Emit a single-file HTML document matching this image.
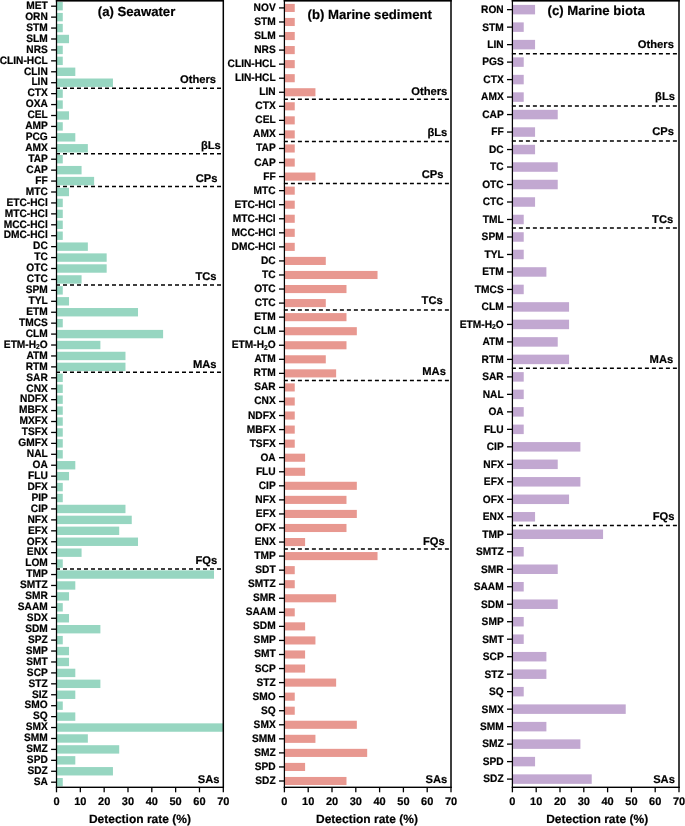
<!DOCTYPE html>
<html><head><meta charset="utf-8"><title>Detection rate</title>
<style>
html,body{margin:0;padding:0;background:#fff;}
body{width:685px;height:826px;overflow:hidden;font-family:"Liberation Sans",sans-serif;}
svg text{text-rendering:geometricPrecision;stroke:#000;stroke-width:0.2px;stroke-linejoin:round;}
svg{display:block;will-change:transform;transform:translateZ(0);font-family:"Liberation Sans",sans-serif;font-weight:bold;fill:#000;}
</style></head><body>
<svg width="685" height="826" viewBox="0 0 685 826">
<rect x="0" y="0" width="685" height="826" fill="#ffffff"/>
<g id="panel-a">
<g fill="#97D6C1">
<rect x="56.50" y="2.00" width="6.27" height="8.40"/>
<rect x="56.50" y="12.93" width="6.27" height="8.40"/>
<rect x="56.50" y="23.86" width="6.27" height="8.40"/>
<rect x="56.50" y="34.79" width="12.54" height="8.40"/>
<rect x="56.50" y="45.72" width="6.27" height="8.40"/>
<rect x="56.50" y="56.65" width="6.27" height="8.40"/>
<rect x="56.50" y="67.58" width="18.81" height="8.40"/>
<rect x="56.50" y="78.51" width="56.44" height="8.40"/>
<rect x="56.50" y="89.44" width="6.27" height="8.40"/>
<rect x="56.50" y="100.37" width="6.27" height="8.40"/>
<rect x="56.50" y="111.30" width="12.54" height="8.40"/>
<rect x="56.50" y="122.23" width="6.27" height="8.40"/>
<rect x="56.50" y="133.15" width="18.81" height="8.40"/>
<rect x="56.50" y="144.08" width="31.35" height="8.40"/>
<rect x="56.50" y="155.01" width="6.27" height="8.40"/>
<rect x="56.50" y="165.94" width="25.08" height="8.40"/>
<rect x="56.50" y="176.87" width="37.62" height="8.40"/>
<rect x="56.50" y="187.80" width="12.54" height="8.40"/>
<rect x="56.50" y="198.73" width="6.27" height="8.40"/>
<rect x="56.50" y="209.66" width="6.27" height="8.40"/>
<rect x="56.50" y="220.59" width="6.27" height="8.40"/>
<rect x="56.50" y="231.52" width="6.27" height="8.40"/>
<rect x="56.50" y="242.45" width="31.35" height="8.40"/>
<rect x="56.50" y="253.38" width="50.17" height="8.40"/>
<rect x="56.50" y="264.31" width="50.17" height="8.40"/>
<rect x="56.50" y="275.24" width="25.08" height="8.40"/>
<rect x="56.50" y="286.17" width="6.27" height="8.40"/>
<rect x="56.50" y="297.10" width="12.54" height="8.40"/>
<rect x="56.50" y="308.03" width="81.52" height="8.40"/>
<rect x="56.50" y="318.96" width="6.27" height="8.40"/>
<rect x="56.50" y="329.89" width="106.60" height="8.40"/>
<rect x="56.50" y="340.82" width="43.89" height="8.40"/>
<rect x="56.50" y="351.75" width="68.98" height="8.40"/>
<rect x="56.50" y="362.68" width="68.98" height="8.40"/>
<rect x="56.50" y="373.61" width="6.27" height="8.40"/>
<rect x="56.50" y="384.54" width="6.27" height="8.40"/>
<rect x="56.50" y="395.46" width="6.27" height="8.40"/>
<rect x="56.50" y="406.39" width="6.27" height="8.40"/>
<rect x="56.50" y="417.32" width="6.27" height="8.40"/>
<rect x="56.50" y="428.25" width="6.27" height="8.40"/>
<rect x="56.50" y="439.18" width="6.27" height="8.40"/>
<rect x="56.50" y="450.11" width="6.27" height="8.40"/>
<rect x="56.50" y="461.04" width="18.81" height="8.40"/>
<rect x="56.50" y="471.97" width="12.54" height="8.40"/>
<rect x="56.50" y="482.90" width="6.27" height="8.40"/>
<rect x="56.50" y="493.83" width="6.27" height="8.40"/>
<rect x="56.50" y="504.76" width="68.98" height="8.40"/>
<rect x="56.50" y="515.69" width="75.25" height="8.40"/>
<rect x="56.50" y="526.62" width="62.71" height="8.40"/>
<rect x="56.50" y="537.55" width="81.52" height="8.40"/>
<rect x="56.50" y="548.48" width="25.08" height="8.40"/>
<rect x="56.50" y="559.41" width="6.27" height="8.40"/>
<rect x="56.50" y="570.34" width="157.52" height="8.40"/>
<rect x="56.50" y="581.27" width="18.81" height="8.40"/>
<rect x="56.50" y="592.20" width="12.54" height="8.40"/>
<rect x="56.50" y="603.13" width="6.27" height="8.40"/>
<rect x="56.50" y="614.06" width="12.54" height="8.40"/>
<rect x="56.50" y="624.99" width="43.89" height="8.40"/>
<rect x="56.50" y="635.92" width="6.27" height="8.40"/>
<rect x="56.50" y="646.85" width="12.54" height="8.40"/>
<rect x="56.50" y="657.77" width="12.54" height="8.40"/>
<rect x="56.50" y="668.70" width="18.81" height="8.40"/>
<rect x="56.50" y="679.63" width="43.89" height="8.40"/>
<rect x="56.50" y="690.56" width="18.81" height="8.40"/>
<rect x="56.50" y="701.49" width="6.27" height="8.40"/>
<rect x="56.50" y="712.42" width="18.81" height="8.40"/>
<rect x="56.50" y="723.35" width="166.80" height="8.40"/>
<rect x="56.50" y="734.28" width="31.35" height="8.40"/>
<rect x="56.50" y="745.21" width="62.71" height="8.40"/>
<rect x="56.50" y="756.14" width="18.81" height="8.40"/>
<rect x="56.50" y="767.07" width="56.44" height="8.40"/>
<rect x="56.50" y="778.00" width="6.27" height="8.40"/>
</g>
<g stroke="#000" stroke-width="1.50" stroke-dasharray="4 3">
<line x1="56.00" y1="88.17" x2="223.30" y2="88.17"/>
<line x1="56.00" y1="153.75" x2="223.30" y2="153.75"/>
<line x1="56.00" y1="186.54" x2="223.30" y2="186.54"/>
<line x1="56.00" y1="284.90" x2="223.30" y2="284.90"/>
<line x1="56.00" y1="372.34" x2="223.30" y2="372.34"/>
<line x1="56.00" y1="569.07" x2="223.30" y2="569.07"/>
</g>
<g fill="#000">
<rect x="55.88" y="0" width="1.25" height="788.00"/>
<rect x="222.55" y="0" width="1.5" height="788.00"/>
<rect x="55.88" y="786.60" width="168.05" height="1.4"/>
</g>
<rect x="55.80" y="0" width="168.20" height="1.6" fill="#000"/>
<g stroke="#000" stroke-width="1.30">
<line x1="51.10" y1="6.20" x2="56.50" y2="6.20"/>
<line x1="51.10" y1="17.13" x2="56.50" y2="17.13"/>
<line x1="51.10" y1="28.06" x2="56.50" y2="28.06"/>
<line x1="51.10" y1="38.99" x2="56.50" y2="38.99"/>
<line x1="51.10" y1="49.92" x2="56.50" y2="49.92"/>
<line x1="51.10" y1="60.85" x2="56.50" y2="60.85"/>
<line x1="51.10" y1="71.78" x2="56.50" y2="71.78"/>
<line x1="51.10" y1="82.71" x2="56.50" y2="82.71"/>
<line x1="51.10" y1="93.64" x2="56.50" y2="93.64"/>
<line x1="51.10" y1="104.57" x2="56.50" y2="104.57"/>
<line x1="51.10" y1="115.50" x2="56.50" y2="115.50"/>
<line x1="51.10" y1="126.43" x2="56.50" y2="126.43"/>
<line x1="51.10" y1="137.35" x2="56.50" y2="137.35"/>
<line x1="51.10" y1="148.28" x2="56.50" y2="148.28"/>
<line x1="51.10" y1="159.21" x2="56.50" y2="159.21"/>
<line x1="51.10" y1="170.14" x2="56.50" y2="170.14"/>
<line x1="51.10" y1="181.07" x2="56.50" y2="181.07"/>
<line x1="51.10" y1="192.00" x2="56.50" y2="192.00"/>
<line x1="51.10" y1="202.93" x2="56.50" y2="202.93"/>
<line x1="51.10" y1="213.86" x2="56.50" y2="213.86"/>
<line x1="51.10" y1="224.79" x2="56.50" y2="224.79"/>
<line x1="51.10" y1="235.72" x2="56.50" y2="235.72"/>
<line x1="51.10" y1="246.65" x2="56.50" y2="246.65"/>
<line x1="51.10" y1="257.58" x2="56.50" y2="257.58"/>
<line x1="51.10" y1="268.51" x2="56.50" y2="268.51"/>
<line x1="51.10" y1="279.44" x2="56.50" y2="279.44"/>
<line x1="51.10" y1="290.37" x2="56.50" y2="290.37"/>
<line x1="51.10" y1="301.30" x2="56.50" y2="301.30"/>
<line x1="51.10" y1="312.23" x2="56.50" y2="312.23"/>
<line x1="51.10" y1="323.16" x2="56.50" y2="323.16"/>
<line x1="51.10" y1="334.09" x2="56.50" y2="334.09"/>
<line x1="51.10" y1="345.02" x2="56.50" y2="345.02"/>
<line x1="51.10" y1="355.95" x2="56.50" y2="355.95"/>
<line x1="51.10" y1="366.88" x2="56.50" y2="366.88"/>
<line x1="51.10" y1="377.81" x2="56.50" y2="377.81"/>
<line x1="51.10" y1="388.74" x2="56.50" y2="388.74"/>
<line x1="51.10" y1="399.66" x2="56.50" y2="399.66"/>
<line x1="51.10" y1="410.59" x2="56.50" y2="410.59"/>
<line x1="51.10" y1="421.52" x2="56.50" y2="421.52"/>
<line x1="51.10" y1="432.45" x2="56.50" y2="432.45"/>
<line x1="51.10" y1="443.38" x2="56.50" y2="443.38"/>
<line x1="51.10" y1="454.31" x2="56.50" y2="454.31"/>
<line x1="51.10" y1="465.24" x2="56.50" y2="465.24"/>
<line x1="51.10" y1="476.17" x2="56.50" y2="476.17"/>
<line x1="51.10" y1="487.10" x2="56.50" y2="487.10"/>
<line x1="51.10" y1="498.03" x2="56.50" y2="498.03"/>
<line x1="51.10" y1="508.96" x2="56.50" y2="508.96"/>
<line x1="51.10" y1="519.89" x2="56.50" y2="519.89"/>
<line x1="51.10" y1="530.82" x2="56.50" y2="530.82"/>
<line x1="51.10" y1="541.75" x2="56.50" y2="541.75"/>
<line x1="51.10" y1="552.68" x2="56.50" y2="552.68"/>
<line x1="51.10" y1="563.61" x2="56.50" y2="563.61"/>
<line x1="51.10" y1="574.54" x2="56.50" y2="574.54"/>
<line x1="51.10" y1="585.47" x2="56.50" y2="585.47"/>
<line x1="51.10" y1="596.40" x2="56.50" y2="596.40"/>
<line x1="51.10" y1="607.33" x2="56.50" y2="607.33"/>
<line x1="51.10" y1="618.26" x2="56.50" y2="618.26"/>
<line x1="51.10" y1="629.19" x2="56.50" y2="629.19"/>
<line x1="51.10" y1="640.12" x2="56.50" y2="640.12"/>
<line x1="51.10" y1="651.05" x2="56.50" y2="651.05"/>
<line x1="51.10" y1="661.97" x2="56.50" y2="661.97"/>
<line x1="51.10" y1="672.90" x2="56.50" y2="672.90"/>
<line x1="51.10" y1="683.83" x2="56.50" y2="683.83"/>
<line x1="51.10" y1="694.76" x2="56.50" y2="694.76"/>
<line x1="51.10" y1="705.69" x2="56.50" y2="705.69"/>
<line x1="51.10" y1="716.62" x2="56.50" y2="716.62"/>
<line x1="51.10" y1="727.55" x2="56.50" y2="727.55"/>
<line x1="51.10" y1="738.48" x2="56.50" y2="738.48"/>
<line x1="51.10" y1="749.41" x2="56.50" y2="749.41"/>
<line x1="51.10" y1="760.34" x2="56.50" y2="760.34"/>
<line x1="51.10" y1="771.27" x2="56.50" y2="771.27"/>
<line x1="51.10" y1="782.20" x2="56.50" y2="782.20"/>
<line x1="56.50" y1="787.30" x2="56.50" y2="792.30"/>
<line x1="80.33" y1="787.30" x2="80.33" y2="792.30"/>
<line x1="104.16" y1="787.30" x2="104.16" y2="792.30"/>
<line x1="127.99" y1="787.30" x2="127.99" y2="792.30"/>
<line x1="151.81" y1="787.30" x2="151.81" y2="792.30"/>
<line x1="175.64" y1="787.30" x2="175.64" y2="792.30"/>
<line x1="199.47" y1="787.30" x2="199.47" y2="792.30"/>
<line x1="223.30" y1="787.30" x2="223.30" y2="792.30"/>
</g>
<g font-size="10.20" text-anchor="end" transform="scale(1.0000,1.0600)">
<text x="47.80" y="8.48">MET</text>
<text x="47.80" y="18.79">ORN</text>
<text x="47.80" y="29.10">STM</text>
<text x="47.80" y="39.41">SLM</text>
<text x="47.80" y="49.73">NRS</text>
<text x="47.80" y="60.04">CLIN-HCL</text>
<text x="47.80" y="70.35">CLIN</text>
<text x="47.80" y="80.66">LIN</text>
<text x="47.80" y="90.97">CTX</text>
<text x="47.80" y="101.28">OXA</text>
<text x="47.80" y="111.59">CEL</text>
<text x="47.80" y="121.90">AMP</text>
<text x="47.80" y="132.21">PCG</text>
<text x="47.80" y="142.52">AMX</text>
<text x="47.80" y="152.83">TAP</text>
<text x="47.80" y="163.15">CAP</text>
<text x="47.80" y="173.46">FF</text>
<text x="47.80" y="183.77">MTC</text>
<text x="47.80" y="194.08">ETC-HCl</text>
<text x="47.80" y="204.39">MTC-HCl</text>
<text x="47.80" y="214.70">MCC-HCl</text>
<text x="47.80" y="225.01">DMC-HCl</text>
<text x="47.80" y="235.32">DC</text>
<text x="47.80" y="245.63">TC</text>
<text x="47.80" y="255.94">OTC</text>
<text x="47.80" y="266.26">CTC</text>
<text x="47.80" y="276.57">SPM</text>
<text x="47.80" y="286.88">TYL</text>
<text x="47.80" y="297.19">ETM</text>
<text x="47.80" y="307.50">TMCS</text>
<text x="47.80" y="317.81">CLM</text>
<text x="47.80" y="328.12">ETM-H<tspan font-size="6.73" dy="1.45">2</tspan><tspan dy="-1.45">O</tspan></text>
<text x="47.80" y="338.43">ATM</text>
<text x="47.80" y="348.74">RTM</text>
<text x="47.80" y="359.05">SAR</text>
<text x="47.80" y="369.36">CNX</text>
<text x="47.80" y="379.68">NDFX</text>
<text x="47.80" y="389.99">MBFX</text>
<text x="47.80" y="400.30">MXFX</text>
<text x="47.80" y="410.61">TSFX</text>
<text x="47.80" y="420.92">GMFX</text>
<text x="47.80" y="431.23">NAL</text>
<text x="47.80" y="441.54">OA</text>
<text x="47.80" y="451.85">FLU</text>
<text x="47.80" y="462.16">DFX</text>
<text x="47.80" y="472.47">PIP</text>
<text x="47.80" y="482.78">CIP</text>
<text x="47.80" y="493.10">NFX</text>
<text x="47.80" y="503.41">EFX</text>
<text x="47.80" y="513.72">OFX</text>
<text x="47.80" y="524.03">ENX</text>
<text x="47.80" y="534.34">LOM</text>
<text x="47.80" y="544.65">TMP</text>
<text x="47.80" y="554.96">SMTZ</text>
<text x="47.80" y="565.27">SMR</text>
<text x="47.80" y="575.58">SAAM</text>
<text x="47.80" y="585.89">SDX</text>
<text x="47.80" y="596.20">SDM</text>
<text x="47.80" y="606.52">SPZ</text>
<text x="47.80" y="616.83">SMP</text>
<text x="47.80" y="627.14">SMT</text>
<text x="47.80" y="637.45">SCP</text>
<text x="47.80" y="647.76">STZ</text>
<text x="47.80" y="658.07">SIZ</text>
<text x="47.80" y="668.38">SMO</text>
<text x="47.80" y="678.69">SQ</text>
<text x="47.80" y="689.00">SMX</text>
<text x="47.80" y="699.31">SMM</text>
<text x="47.80" y="709.62">SMZ</text>
<text x="47.80" y="719.94">SPD</text>
<text x="47.80" y="730.25">SDZ</text>
<text x="47.80" y="740.56">SA</text>
</g>
<g font-size="11.00" text-anchor="middle">
<text x="56.50" y="804.60">0</text>
<text x="80.33" y="804.60">10</text>
<text x="104.16" y="804.60">20</text>
<text x="127.99" y="804.60">30</text>
<text x="151.81" y="804.60">40</text>
<text x="175.64" y="804.60">50</text>
<text x="199.47" y="804.60">60</text>
<text x="223.30" y="804.60">70</text>
</g>
<text x="139.90" y="822.60" font-size="12.00" text-anchor="middle">Detection rate (%)</text>
<g font-size="11.20" text-anchor="end">
<text x="216.10" y="83.00">Others</text>
<text x="220.80" y="149.00">βLs</text>
<text x="217.50" y="181.70">CPs</text>
<text x="216.60" y="279.90">TCs</text>
<text x="216.60" y="367.50">MAs</text>
<text x="217.30" y="564.30">FQs</text>
<text x="219.60" y="783.20">SAs</text>
</g>
<text x="97.80" y="16.00" font-size="13.17">(a) Seawater</text>
</g>
<g id="panel-b">
<g fill="#E89890">
<rect x="284.40" y="3.87" width="10.35" height="8.10"/>
<rect x="284.40" y="17.93" width="10.35" height="8.10"/>
<rect x="284.40" y="31.98" width="10.35" height="8.10"/>
<rect x="284.40" y="46.04" width="10.35" height="8.10"/>
<rect x="284.40" y="60.09" width="10.35" height="8.10"/>
<rect x="284.40" y="74.15" width="10.35" height="8.10"/>
<rect x="284.40" y="88.21" width="31.04" height="8.10"/>
<rect x="284.40" y="102.26" width="10.35" height="8.10"/>
<rect x="284.40" y="116.32" width="10.35" height="8.10"/>
<rect x="284.40" y="130.37" width="10.35" height="8.10"/>
<rect x="284.40" y="144.43" width="10.35" height="8.10"/>
<rect x="284.40" y="158.49" width="10.35" height="8.10"/>
<rect x="284.40" y="172.54" width="31.04" height="8.10"/>
<rect x="284.40" y="186.60" width="10.35" height="8.10"/>
<rect x="284.40" y="200.65" width="10.35" height="8.10"/>
<rect x="284.40" y="214.71" width="10.35" height="8.10"/>
<rect x="284.40" y="228.77" width="10.35" height="8.10"/>
<rect x="284.40" y="242.82" width="10.35" height="8.10"/>
<rect x="284.40" y="256.88" width="41.39" height="8.10"/>
<rect x="284.40" y="270.93" width="93.13" height="8.10"/>
<rect x="284.40" y="284.99" width="62.09" height="8.10"/>
<rect x="284.40" y="299.05" width="41.39" height="8.10"/>
<rect x="284.40" y="313.10" width="62.09" height="8.10"/>
<rect x="284.40" y="327.16" width="72.43" height="8.10"/>
<rect x="284.40" y="341.21" width="62.09" height="8.10"/>
<rect x="284.40" y="355.27" width="41.39" height="8.10"/>
<rect x="284.40" y="369.33" width="51.74" height="8.10"/>
<rect x="284.40" y="383.38" width="10.35" height="8.10"/>
<rect x="284.40" y="397.44" width="10.35" height="8.10"/>
<rect x="284.40" y="411.49" width="10.35" height="8.10"/>
<rect x="284.40" y="425.55" width="10.35" height="8.10"/>
<rect x="284.40" y="439.61" width="10.35" height="8.10"/>
<rect x="284.40" y="453.66" width="20.70" height="8.10"/>
<rect x="284.40" y="467.72" width="20.70" height="8.10"/>
<rect x="284.40" y="481.77" width="72.43" height="8.10"/>
<rect x="284.40" y="495.83" width="62.09" height="8.10"/>
<rect x="284.40" y="509.89" width="72.43" height="8.10"/>
<rect x="284.40" y="523.94" width="62.09" height="8.10"/>
<rect x="284.40" y="538.00" width="20.70" height="8.10"/>
<rect x="284.40" y="552.05" width="93.13" height="8.10"/>
<rect x="284.40" y="566.11" width="10.35" height="8.10"/>
<rect x="284.40" y="580.17" width="10.35" height="8.10"/>
<rect x="284.40" y="594.22" width="51.74" height="8.10"/>
<rect x="284.40" y="608.28" width="10.35" height="8.10"/>
<rect x="284.40" y="622.33" width="20.70" height="8.10"/>
<rect x="284.40" y="636.39" width="31.04" height="8.10"/>
<rect x="284.40" y="650.45" width="20.70" height="8.10"/>
<rect x="284.40" y="664.50" width="20.70" height="8.10"/>
<rect x="284.40" y="678.56" width="51.74" height="8.10"/>
<rect x="284.40" y="692.61" width="10.35" height="8.10"/>
<rect x="284.40" y="706.67" width="10.35" height="8.10"/>
<rect x="284.40" y="720.73" width="72.43" height="8.10"/>
<rect x="284.40" y="734.78" width="31.04" height="8.10"/>
<rect x="284.40" y="748.84" width="82.78" height="8.10"/>
<rect x="284.40" y="762.89" width="20.70" height="8.10"/>
<rect x="284.40" y="776.95" width="62.09" height="8.10"/>
</g>
<g stroke="#000" stroke-width="1.50" stroke-dasharray="4 3">
<line x1="283.90" y1="99.28" x2="451.00" y2="99.28"/>
<line x1="283.90" y1="141.45" x2="451.00" y2="141.45"/>
<line x1="283.90" y1="183.62" x2="451.00" y2="183.62"/>
<line x1="283.90" y1="310.12" x2="451.00" y2="310.12"/>
<line x1="283.90" y1="380.40" x2="451.00" y2="380.40"/>
<line x1="283.90" y1="549.08" x2="451.00" y2="549.08"/>
</g>
<g fill="#000">
<rect x="283.78" y="0" width="1.25" height="788.00"/>
<rect x="450.25" y="0" width="1.5" height="788.00"/>
<rect x="283.78" y="786.60" width="167.85" height="1.4"/>
</g>
<rect x="283.70" y="0" width="168.00" height="1.6" fill="#000"/>
<g stroke="#000" stroke-width="1.30">
<line x1="279.00" y1="7.92" x2="284.40" y2="7.92"/>
<line x1="279.00" y1="21.98" x2="284.40" y2="21.98"/>
<line x1="279.00" y1="36.03" x2="284.40" y2="36.03"/>
<line x1="279.00" y1="50.09" x2="284.40" y2="50.09"/>
<line x1="279.00" y1="64.14" x2="284.40" y2="64.14"/>
<line x1="279.00" y1="78.20" x2="284.40" y2="78.20"/>
<line x1="279.00" y1="92.26" x2="284.40" y2="92.26"/>
<line x1="279.00" y1="106.31" x2="284.40" y2="106.31"/>
<line x1="279.00" y1="120.37" x2="284.40" y2="120.37"/>
<line x1="279.00" y1="134.42" x2="284.40" y2="134.42"/>
<line x1="279.00" y1="148.48" x2="284.40" y2="148.48"/>
<line x1="279.00" y1="162.54" x2="284.40" y2="162.54"/>
<line x1="279.00" y1="176.59" x2="284.40" y2="176.59"/>
<line x1="279.00" y1="190.65" x2="284.40" y2="190.65"/>
<line x1="279.00" y1="204.70" x2="284.40" y2="204.70"/>
<line x1="279.00" y1="218.76" x2="284.40" y2="218.76"/>
<line x1="279.00" y1="232.82" x2="284.40" y2="232.82"/>
<line x1="279.00" y1="246.87" x2="284.40" y2="246.87"/>
<line x1="279.00" y1="260.93" x2="284.40" y2="260.93"/>
<line x1="279.00" y1="274.98" x2="284.40" y2="274.98"/>
<line x1="279.00" y1="289.04" x2="284.40" y2="289.04"/>
<line x1="279.00" y1="303.10" x2="284.40" y2="303.10"/>
<line x1="279.00" y1="317.15" x2="284.40" y2="317.15"/>
<line x1="279.00" y1="331.21" x2="284.40" y2="331.21"/>
<line x1="279.00" y1="345.26" x2="284.40" y2="345.26"/>
<line x1="279.00" y1="359.32" x2="284.40" y2="359.32"/>
<line x1="279.00" y1="373.38" x2="284.40" y2="373.38"/>
<line x1="279.00" y1="387.43" x2="284.40" y2="387.43"/>
<line x1="279.00" y1="401.49" x2="284.40" y2="401.49"/>
<line x1="279.00" y1="415.54" x2="284.40" y2="415.54"/>
<line x1="279.00" y1="429.60" x2="284.40" y2="429.60"/>
<line x1="279.00" y1="443.66" x2="284.40" y2="443.66"/>
<line x1="279.00" y1="457.71" x2="284.40" y2="457.71"/>
<line x1="279.00" y1="471.77" x2="284.40" y2="471.77"/>
<line x1="279.00" y1="485.82" x2="284.40" y2="485.82"/>
<line x1="279.00" y1="499.88" x2="284.40" y2="499.88"/>
<line x1="279.00" y1="513.94" x2="284.40" y2="513.94"/>
<line x1="279.00" y1="527.99" x2="284.40" y2="527.99"/>
<line x1="279.00" y1="542.05" x2="284.40" y2="542.05"/>
<line x1="279.00" y1="556.10" x2="284.40" y2="556.10"/>
<line x1="279.00" y1="570.16" x2="284.40" y2="570.16"/>
<line x1="279.00" y1="584.22" x2="284.40" y2="584.22"/>
<line x1="279.00" y1="598.27" x2="284.40" y2="598.27"/>
<line x1="279.00" y1="612.33" x2="284.40" y2="612.33"/>
<line x1="279.00" y1="626.38" x2="284.40" y2="626.38"/>
<line x1="279.00" y1="640.44" x2="284.40" y2="640.44"/>
<line x1="279.00" y1="654.50" x2="284.40" y2="654.50"/>
<line x1="279.00" y1="668.55" x2="284.40" y2="668.55"/>
<line x1="279.00" y1="682.61" x2="284.40" y2="682.61"/>
<line x1="279.00" y1="696.66" x2="284.40" y2="696.66"/>
<line x1="279.00" y1="710.72" x2="284.40" y2="710.72"/>
<line x1="279.00" y1="724.78" x2="284.40" y2="724.78"/>
<line x1="279.00" y1="738.83" x2="284.40" y2="738.83"/>
<line x1="279.00" y1="752.89" x2="284.40" y2="752.89"/>
<line x1="279.00" y1="766.94" x2="284.40" y2="766.94"/>
<line x1="279.00" y1="781.00" x2="284.40" y2="781.00"/>
<line x1="284.40" y1="787.30" x2="284.40" y2="792.30"/>
<line x1="308.20" y1="787.30" x2="308.20" y2="792.30"/>
<line x1="332.00" y1="787.30" x2="332.00" y2="792.30"/>
<line x1="355.80" y1="787.30" x2="355.80" y2="792.30"/>
<line x1="379.60" y1="787.30" x2="379.60" y2="792.30"/>
<line x1="403.40" y1="787.30" x2="403.40" y2="792.30"/>
<line x1="427.20" y1="787.30" x2="427.20" y2="792.30"/>
<line x1="451.00" y1="787.30" x2="451.00" y2="792.30"/>
</g>
<g font-size="10.20" text-anchor="end" transform="scale(1.0000,1.0600)">
<text x="275.70" y="10.29">NOV</text>
<text x="275.70" y="23.55">STM</text>
<text x="275.70" y="36.81">SLM</text>
<text x="275.70" y="50.07">NRS</text>
<text x="275.70" y="63.33">CLIN-HCL</text>
<text x="275.70" y="76.60">LIN-HCL</text>
<text x="275.70" y="89.86">LIN</text>
<text x="275.70" y="103.12">CTX</text>
<text x="275.70" y="116.38">CEL</text>
<text x="275.70" y="129.64">AMX</text>
<text x="275.70" y="142.90">TAP</text>
<text x="275.70" y="156.16">CAP</text>
<text x="275.70" y="169.42">FF</text>
<text x="275.70" y="182.68">MTC</text>
<text x="275.70" y="195.94">ETC-HCl</text>
<text x="275.70" y="209.20">MTC-HCl</text>
<text x="275.70" y="222.46">MCC-HCl</text>
<text x="275.70" y="235.72">DMC-HCl</text>
<text x="275.70" y="248.98">DC</text>
<text x="275.70" y="262.24">TC</text>
<text x="275.70" y="275.50">OTC</text>
<text x="275.70" y="288.76">CTC</text>
<text x="275.70" y="302.02">ETM</text>
<text x="275.70" y="315.28">CLM</text>
<text x="275.70" y="328.54">ETM-H<tspan font-size="6.73" dy="1.45">2</tspan><tspan dy="-1.45">O</tspan></text>
<text x="275.70" y="341.80">ATM</text>
<text x="275.70" y="355.06">RTM</text>
<text x="275.70" y="368.32">SAR</text>
<text x="275.70" y="381.58">CNX</text>
<text x="275.70" y="394.84">NDFX</text>
<text x="275.70" y="408.10">MBFX</text>
<text x="275.70" y="421.37">TSFX</text>
<text x="275.70" y="434.63">OA</text>
<text x="275.70" y="447.89">FLU</text>
<text x="275.70" y="461.15">CIP</text>
<text x="275.70" y="474.41">NFX</text>
<text x="275.70" y="487.67">EFX</text>
<text x="275.70" y="500.93">OFX</text>
<text x="275.70" y="514.19">ENX</text>
<text x="275.70" y="527.45">TMP</text>
<text x="275.70" y="540.71">SDT</text>
<text x="275.70" y="553.97">SMTZ</text>
<text x="275.70" y="567.23">SMR</text>
<text x="275.70" y="580.49">SAAM</text>
<text x="275.70" y="593.75">SDM</text>
<text x="275.70" y="607.01">SMP</text>
<text x="275.70" y="620.27">SMT</text>
<text x="275.70" y="633.53">SCP</text>
<text x="275.70" y="646.79">STZ</text>
<text x="275.70" y="660.05">SMO</text>
<text x="275.70" y="673.31">SQ</text>
<text x="275.70" y="686.57">SMX</text>
<text x="275.70" y="699.83">SMM</text>
<text x="275.70" y="713.09">SMZ</text>
<text x="275.70" y="726.35">SPD</text>
<text x="275.70" y="739.61">SDZ</text>
</g>
<g font-size="11.00" text-anchor="middle">
<text x="284.40" y="804.60">0</text>
<text x="308.20" y="804.60">10</text>
<text x="332.00" y="804.60">20</text>
<text x="355.80" y="804.60">30</text>
<text x="379.60" y="804.60">40</text>
<text x="403.40" y="804.60">50</text>
<text x="427.20" y="804.60">60</text>
<text x="451.00" y="804.60">70</text>
</g>
<text x="367.00" y="822.60" font-size="12.00" text-anchor="middle">Detection rate (%)</text>
<g font-size="11.20" text-anchor="end">
<text x="447.30" y="95.30">Others</text>
<text x="447.30" y="135.60">βLs</text>
<text x="443.40" y="178.00">CPs</text>
<text x="442.70" y="304.00">TCs</text>
<text x="445.90" y="375.20">MAs</text>
<text x="444.80" y="544.90">FQs</text>
<text x="447.30" y="783.20">SAs</text>
</g>
<text x="307.60" y="18.70" font-size="13.17">(b) Marine sediment</text>
</g>
<g id="panel-c">
<g fill="#C2A8D1">
<rect x="512.40" y="4.89" width="22.67" height="9.50"/>
<rect x="512.40" y="22.38" width="11.33" height="9.50"/>
<rect x="512.40" y="39.87" width="22.67" height="9.50"/>
<rect x="512.40" y="57.35" width="11.33" height="9.50"/>
<rect x="512.40" y="74.84" width="11.33" height="9.50"/>
<rect x="512.40" y="92.33" width="11.33" height="9.50"/>
<rect x="512.40" y="109.82" width="45.33" height="9.50"/>
<rect x="512.40" y="127.30" width="22.67" height="9.50"/>
<rect x="512.40" y="144.79" width="22.67" height="9.50"/>
<rect x="512.40" y="162.28" width="45.33" height="9.50"/>
<rect x="512.40" y="179.77" width="45.33" height="9.50"/>
<rect x="512.40" y="197.26" width="22.67" height="9.50"/>
<rect x="512.40" y="214.74" width="11.33" height="9.50"/>
<rect x="512.40" y="232.23" width="11.33" height="9.50"/>
<rect x="512.40" y="249.72" width="11.33" height="9.50"/>
<rect x="512.40" y="267.21" width="34.00" height="9.50"/>
<rect x="512.40" y="284.69" width="11.33" height="9.50"/>
<rect x="512.40" y="302.18" width="56.67" height="9.50"/>
<rect x="512.40" y="319.67" width="56.67" height="9.50"/>
<rect x="512.40" y="337.16" width="45.33" height="9.50"/>
<rect x="512.40" y="354.64" width="56.67" height="9.50"/>
<rect x="512.40" y="372.13" width="11.33" height="9.50"/>
<rect x="512.40" y="389.62" width="11.33" height="9.50"/>
<rect x="512.40" y="407.11" width="11.33" height="9.50"/>
<rect x="512.40" y="424.60" width="11.33" height="9.50"/>
<rect x="512.40" y="442.08" width="68.00" height="9.50"/>
<rect x="512.40" y="459.57" width="45.33" height="9.50"/>
<rect x="512.40" y="477.06" width="68.00" height="9.50"/>
<rect x="512.40" y="494.55" width="56.67" height="9.50"/>
<rect x="512.40" y="512.03" width="22.67" height="9.50"/>
<rect x="512.40" y="529.52" width="90.67" height="9.50"/>
<rect x="512.40" y="547.01" width="11.33" height="9.50"/>
<rect x="512.40" y="564.50" width="45.33" height="9.50"/>
<rect x="512.40" y="581.99" width="11.33" height="9.50"/>
<rect x="512.40" y="599.47" width="45.33" height="9.50"/>
<rect x="512.40" y="616.96" width="11.33" height="9.50"/>
<rect x="512.40" y="634.45" width="11.33" height="9.50"/>
<rect x="512.40" y="651.94" width="34.00" height="9.50"/>
<rect x="512.40" y="669.42" width="34.00" height="9.50"/>
<rect x="512.40" y="686.91" width="11.33" height="9.50"/>
<rect x="512.40" y="704.40" width="113.33" height="9.50"/>
<rect x="512.40" y="721.89" width="34.00" height="9.50"/>
<rect x="512.40" y="739.37" width="68.00" height="9.50"/>
<rect x="512.40" y="756.86" width="22.67" height="9.50"/>
<rect x="512.40" y="774.35" width="79.33" height="9.50"/>
</g>
<g stroke="#000" stroke-width="1.50" stroke-dasharray="4 3">
<line x1="511.90" y1="53.76" x2="679.00" y2="53.76"/>
<line x1="511.90" y1="106.02" x2="679.00" y2="106.02"/>
<line x1="511.90" y1="141.00" x2="679.00" y2="141.00"/>
<line x1="511.90" y1="228.04" x2="679.00" y2="228.04"/>
<line x1="511.90" y1="368.24" x2="679.00" y2="368.24"/>
<line x1="511.90" y1="525.58" x2="679.00" y2="525.58"/>
</g>
<g fill="#000">
<rect x="511.78" y="0" width="1.25" height="788.00"/>
<rect x="678.25" y="0" width="1.5" height="788.00"/>
<rect x="511.78" y="786.60" width="167.85" height="1.4"/>
</g>
<rect x="511.70" y="0" width="168.00" height="1.6" fill="#000"/>
<g stroke="#000" stroke-width="1.30">
<line x1="507.00" y1="9.64" x2="512.40" y2="9.64"/>
<line x1="507.00" y1="27.13" x2="512.40" y2="27.13"/>
<line x1="507.00" y1="44.62" x2="512.40" y2="44.62"/>
<line x1="507.00" y1="62.10" x2="512.40" y2="62.10"/>
<line x1="507.00" y1="79.59" x2="512.40" y2="79.59"/>
<line x1="507.00" y1="97.08" x2="512.40" y2="97.08"/>
<line x1="507.00" y1="114.57" x2="512.40" y2="114.57"/>
<line x1="507.00" y1="132.05" x2="512.40" y2="132.05"/>
<line x1="507.00" y1="149.54" x2="512.40" y2="149.54"/>
<line x1="507.00" y1="167.03" x2="512.40" y2="167.03"/>
<line x1="507.00" y1="184.52" x2="512.40" y2="184.52"/>
<line x1="507.00" y1="202.01" x2="512.40" y2="202.01"/>
<line x1="507.00" y1="219.49" x2="512.40" y2="219.49"/>
<line x1="507.00" y1="236.98" x2="512.40" y2="236.98"/>
<line x1="507.00" y1="254.47" x2="512.40" y2="254.47"/>
<line x1="507.00" y1="271.96" x2="512.40" y2="271.96"/>
<line x1="507.00" y1="289.44" x2="512.40" y2="289.44"/>
<line x1="507.00" y1="306.93" x2="512.40" y2="306.93"/>
<line x1="507.00" y1="324.42" x2="512.40" y2="324.42"/>
<line x1="507.00" y1="341.91" x2="512.40" y2="341.91"/>
<line x1="507.00" y1="359.39" x2="512.40" y2="359.39"/>
<line x1="507.00" y1="376.88" x2="512.40" y2="376.88"/>
<line x1="507.00" y1="394.37" x2="512.40" y2="394.37"/>
<line x1="507.00" y1="411.86" x2="512.40" y2="411.86"/>
<line x1="507.00" y1="429.35" x2="512.40" y2="429.35"/>
<line x1="507.00" y1="446.83" x2="512.40" y2="446.83"/>
<line x1="507.00" y1="464.32" x2="512.40" y2="464.32"/>
<line x1="507.00" y1="481.81" x2="512.40" y2="481.81"/>
<line x1="507.00" y1="499.30" x2="512.40" y2="499.30"/>
<line x1="507.00" y1="516.78" x2="512.40" y2="516.78"/>
<line x1="507.00" y1="534.27" x2="512.40" y2="534.27"/>
<line x1="507.00" y1="551.76" x2="512.40" y2="551.76"/>
<line x1="507.00" y1="569.25" x2="512.40" y2="569.25"/>
<line x1="507.00" y1="586.74" x2="512.40" y2="586.74"/>
<line x1="507.00" y1="604.22" x2="512.40" y2="604.22"/>
<line x1="507.00" y1="621.71" x2="512.40" y2="621.71"/>
<line x1="507.00" y1="639.20" x2="512.40" y2="639.20"/>
<line x1="507.00" y1="656.69" x2="512.40" y2="656.69"/>
<line x1="507.00" y1="674.17" x2="512.40" y2="674.17"/>
<line x1="507.00" y1="691.66" x2="512.40" y2="691.66"/>
<line x1="507.00" y1="709.15" x2="512.40" y2="709.15"/>
<line x1="507.00" y1="726.64" x2="512.40" y2="726.64"/>
<line x1="507.00" y1="744.12" x2="512.40" y2="744.12"/>
<line x1="507.00" y1="761.61" x2="512.40" y2="761.61"/>
<line x1="507.00" y1="779.10" x2="512.40" y2="779.10"/>
<line x1="512.40" y1="787.30" x2="512.40" y2="792.30"/>
<line x1="536.20" y1="787.30" x2="536.20" y2="792.30"/>
<line x1="560.00" y1="787.30" x2="560.00" y2="792.30"/>
<line x1="583.80" y1="787.30" x2="583.80" y2="792.30"/>
<line x1="607.60" y1="787.30" x2="607.60" y2="792.30"/>
<line x1="631.40" y1="787.30" x2="631.40" y2="792.30"/>
<line x1="655.20" y1="787.30" x2="655.20" y2="792.30"/>
<line x1="679.00" y1="787.30" x2="679.00" y2="792.30"/>
</g>
<g font-size="10.20" text-anchor="end" transform="scale(1.0000,1.0600)">
<text x="503.70" y="12.29">RON</text>
<text x="503.70" y="28.79">STM</text>
<text x="503.70" y="45.29">LIN</text>
<text x="503.70" y="61.79">PGS</text>
<text x="503.70" y="78.28">CTX</text>
<text x="503.70" y="94.78">AMX</text>
<text x="503.70" y="111.28">CAP</text>
<text x="503.70" y="127.78">FF</text>
<text x="503.70" y="144.28">DC</text>
<text x="503.70" y="160.77">TC</text>
<text x="503.70" y="177.27">OTC</text>
<text x="503.70" y="193.77">CTC</text>
<text x="503.70" y="210.27">TML</text>
<text x="503.70" y="226.77">SPM</text>
<text x="503.70" y="243.26">TYL</text>
<text x="503.70" y="259.76">ETM</text>
<text x="503.70" y="276.26">TMCS</text>
<text x="503.70" y="292.76">CLM</text>
<text x="503.70" y="309.25">ETM-H<tspan font-size="6.73" dy="1.45">2</tspan><tspan dy="-1.45">O</tspan></text>
<text x="503.70" y="325.75">ATM</text>
<text x="503.70" y="342.25">RTM</text>
<text x="503.70" y="358.75">SAR</text>
<text x="503.70" y="375.25">NAL</text>
<text x="503.70" y="391.74">OA</text>
<text x="503.70" y="408.24">FLU</text>
<text x="503.70" y="424.74">CIP</text>
<text x="503.70" y="441.24">NFX</text>
<text x="503.70" y="457.74">EFX</text>
<text x="503.70" y="474.23">OFX</text>
<text x="503.70" y="490.73">ENX</text>
<text x="503.70" y="507.23">TMP</text>
<text x="503.70" y="523.73">SMTZ</text>
<text x="503.70" y="540.22">SMR</text>
<text x="503.70" y="556.72">SAAM</text>
<text x="503.70" y="573.22">SDM</text>
<text x="503.70" y="589.72">SMP</text>
<text x="503.70" y="606.22">SMT</text>
<text x="503.70" y="622.71">SCP</text>
<text x="503.70" y="639.21">STZ</text>
<text x="503.70" y="655.71">SQ</text>
<text x="503.70" y="672.21">SMX</text>
<text x="503.70" y="688.71">SMM</text>
<text x="503.70" y="705.20">SMZ</text>
<text x="503.70" y="721.70">SPD</text>
<text x="503.70" y="738.20">SDZ</text>
</g>
<g font-size="11.00" text-anchor="middle">
<text x="512.40" y="804.60">0</text>
<text x="536.20" y="804.60">10</text>
<text x="560.00" y="804.60">20</text>
<text x="583.80" y="804.60">30</text>
<text x="607.60" y="804.60">40</text>
<text x="631.40" y="804.60">50</text>
<text x="655.20" y="804.60">60</text>
<text x="679.00" y="804.60">70</text>
</g>
<text x="597.20" y="822.60" font-size="12.00" text-anchor="middle">Detection rate (%)</text>
<g font-size="11.20" text-anchor="end">
<text x="673.90" y="48.40">Others</text>
<text x="675.00" y="100.00">βLs</text>
<text x="673.90" y="134.90">CPs</text>
<text x="673.20" y="222.80">TCs</text>
<text x="673.20" y="362.90">MAs</text>
<text x="674.40" y="519.90">FQs</text>
<text x="674.90" y="783.40">SAs</text>
</g>
<text x="547.50" y="15.10" font-size="13.17">(c) Marine biota</text>
</g>
</svg>
</body></html>
